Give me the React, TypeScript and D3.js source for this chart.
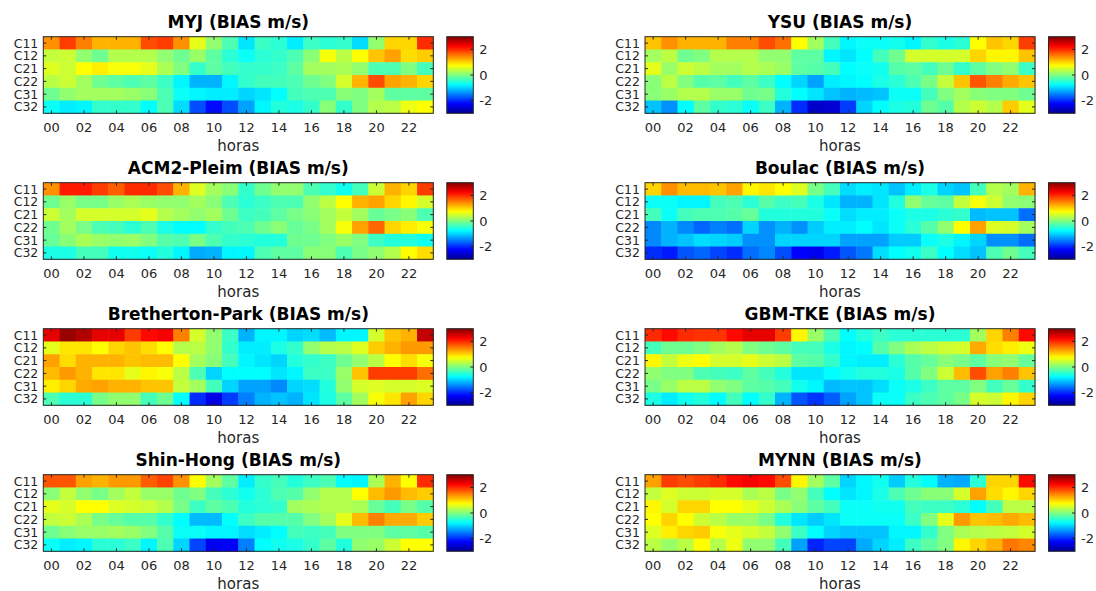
import * as d3 from 'd3';

// estaciones y horas
const stations = ['C11', 'C12', 'C21', 'C22', 'C31', 'C32'];
const hours = d3.range(24);
const hourTicks = [0, 2, 4, 6, 8, 10, 12, 14, 16, 18, 20, 22];
const hourLabels = ['00', '02', '04', '06', '08', '10', '12', '14', '16', '18', '20', '22'];
const cbarTicks = [-2, 0, 2];

// BIAS (m/s) por esquema: filas C11..C32, columnas 00..23 h
const MYJ = [
  [1.4, 1.9, 1.5, 1.2, 1.2, 1.2, 1.8, 1.9, 1.4, 0.6, 0.1, -0.3, -0.9, -0.4, -0.5, -0.85, -0.4, -0.5, -0.45, -0.95, 0.1, 1.0, 1.0, 2.0],
  [0.4, 0.45, 0.1, -0.1, 0.3, 0.3, 0.3, 0.1, -0.1, 0.15, -0.2, -0.5, -0.7, -0.5, -0.45, -0.3, 0.05, 0.7, 0.35, 0.75, 1.1, 1.3, 0.95, 1.05],
  [0.55, 0.45, 0.75, 0.85, 0.7, 0.7, 0.6, 0.25, 0.0, -0.45, -0.2, -0.35, -0.45, -0.45, -0.4, -0.2, 0.2, 0.2, 0.25, 0.1, -0.3, -0.3, 0.0, -0.35],
  [0.35, 0.45, 0.2, -0.1, -0.2, -0.3, -0.2, -0.4, -0.8, -1.2, -1.2, -0.8, -0.45, -0.35, -0.35, -0.3, -0.1, 0.0, 0.5, 1.2, 1.8, 1.3, 1.2, 1.0],
  [-0.1, 0.1, 0.2, 0.2, 0.2, 0.15, 0.05, -0.3, -0.7, -0.8, -0.85, -0.85, -1.0, -0.9, -0.75, -0.35, -0.3, -0.3, 0.05, 0.0, 0.2, -0.2, -0.2, -0.2],
  [-0.7, -0.85, -0.8, -0.45, -0.45, -0.45, -0.75, -0.3, -0.95, -1.8, -2.2, -1.8, -1.3, -0.8, -0.55, -0.6, -0.45, 0.05, -0.45, 0.0, 0.3, 0.35, 0.65, 0.75],
];

const YSU = [
  [1.1, 1.4, 1.2, 1.2, 1.2, 1.5, 1.5, 1.8, 1.6, 0.75, 0.2, -0.35, -0.8, -0.7, -0.7, -0.65, -0.8, -0.45, -0.6, -0.5, 0.75, 1.1, 1.0, 1.9],
  [0.2, 0.35, -0.1, 0.0, 0.3, 0.3, 0.3, 0.1, 0.1, -0.2, -0.2, -0.8, -0.9, -0.75, -0.35, -0.1, 0.5, 0.5, 0.5, 0.5, 1.0, 0.8, 0.8, 1.1],
  [0.6, 0.15, 0.45, 0.35, 0.2, 0.2, 0.3, 0.25, 0.15, -0.2, -0.25, -0.35, -0.75, -0.7, -0.65, -0.25, -0.2, -0.35, -0.1, -0.45, -0.2, 0.0, 0.1, -0.4],
  [0.05, 0.35, 0.0, -0.25, -0.2, -0.35, -0.2, -0.4, -0.75, -1.0, -1.3, -0.85, -0.8, -0.75, -0.6, -0.5, -0.3, -0.05, 0.4, 1.1, 1.75, 1.5, 1.25, 1.1],
  [0.05, 0.15, 0.3, 0.3, 0.15, 0.15, -0.1, -0.05, -0.55, -0.75, -0.9, -1.1, -1.2, -1.15, -1.1, -0.7, -0.7, -0.35, 0.0, 0.2, 0.05, 0.0, 0.0, -0.1],
  [-1.1, -1.4, -0.75, -0.2, -0.45, -0.5, -0.7, -0.4, -1.2, -2.0, -2.6, -2.55, -1.9, -1.0, -0.75, -0.6, -0.55, -0.1, -0.25, 0.3, 0.45, 0.3, 1.05, 0.6],
];

const ACM2 = [
  [1.4, 2.1, 2.1, 1.9, 1.7, 2.0, 2.0, 1.8, 1.2, 0.55, 0.2, 0.05, -0.45, -0.1, 0.1, 0.1, -0.3, -0.45, -0.65, -0.35, 0.45, 1.2, 1.0, 1.9],
  [-0.1, 0.15, -0.05, -0.05, 0.15, 0.25, 0.15, 0.1, 0.1, 0.2, 0.05, -0.3, -0.5, -0.4, -0.3, -0.3, 0.1, 0.35, 0.75, 1.2, 1.3, 1.0, 0.8, 0.5],
  [0.45, 0.2, 0.5, 0.5, 0.5, 0.5, 0.6, 0.3, 0.2, 0.1, 0.2, -0.1, -0.4, -0.35, -0.2, -0.05, 0.05, 0.2, 0.4, 0.2, -0.15, -0.05, 0.05, -0.3],
  [-0.1, 0.2, -0.05, -0.3, -0.35, -0.5, -0.3, -0.6, -0.75, -0.75, -0.45, -0.35, -0.3, -0.1, 0.05, -0.15, -0.05, 0.2, 0.7, 1.3, 1.65, 1.0, 0.85, 0.7],
  [-0.15, 0.05, 0.25, 0.15, 0.1, 0.15, 0.0, -0.25, -0.3, -0.05, -0.3, -0.45, -0.5, -0.55, -0.55, -0.1, -0.1, 0.0, 0.15, 0.0, -0.4, -0.55, -0.55, -0.65],
  [-0.6, -0.6, -0.35, -0.35, -0.65, -0.65, -0.7, -0.55, -0.8, -1.25, -1.2, -0.8, -0.8, -0.3, -0.2, -0.2, 0.05, 0.05, -0.3, -0.05, 0.1, 0.3, 0.75, 0.95],
];

const BOULAC = [
  [1.0, 1.4, 1.15, 1.15, 1.1, 1.3, 0.8, 0.9, 0.75, 0.55, -0.05, -0.35, -0.95, -0.85, -0.9, -1.1, -0.85, -0.6, -1.0, -1.1, -0.35, 0.3, 0.2, 1.2],
  [-0.7, -0.7, -0.8, -0.8, -0.35, -0.3, -0.5, -0.25, -0.4, -0.35, -0.6, -0.9, -1.2, -1.2, -0.9, -0.55, 0.1, -0.15, -0.2, 0.4, 0.7, 0.45, 0.1, 0.05],
  [-0.35, -0.7, -0.35, -0.3, -0.3, -0.25, -0.15, -0.55, -0.55, -0.55, -0.55, -0.7, -0.95, -0.85, -0.85, -0.7, -0.6, -0.6, -0.5, -0.45, -1.15, -1.1, -1.1, -1.6],
  [-1.45, -1.2, -1.45, -1.65, -1.5, -1.6, -1.0, -1.4, -1.2, -1.4, -1.05, -0.85, -0.85, -0.75, -0.9, -0.7, -0.5, -0.25, 0.1, 0.75, 1.3, 0.55, 0.5, 0.2],
  [-1.45, -1.2, -1.1, -0.95, -1.0, -1.05, -1.4, -1.4, -1.0, -1.0, -1.0, -1.0, -1.3, -1.3, -1.3, -1.05, -1.05, -0.7, -0.6, -0.8, -1.0, -1.4, -1.4, -1.6],
  [-2.0, -2.1, -1.75, -1.65, -1.85, -2.0, -1.6, -1.45, -1.8, -2.25, -2.35, -2.1, -1.75, -1.55, -0.95, -0.75, -0.65, -0.4, -0.75, -0.95, -1.1, -0.3, -0.1, -0.35],
];

const BRETHERTON = [
  [2.4, 2.85, 2.7, 2.4, 2.4, 1.9, 2.2, 2.3, 1.5, 0.5, 0.1, -0.4, -1.2, -0.8, -0.8, -1.0, -0.95, -1.15, -0.8, -0.8, 0.5, 1.1, 1.2, 2.6],
  [0.6, 0.9, 0.9, 0.75, 1.0, 1.1, 0.95, 0.75, 0.3, 0.35, 0.1, -0.45, -0.85, -0.85, -0.6, -0.45, 0.1, 0.3, 0.35, 0.55, 1.05, 1.2, 1.35, 1.35],
  [1.3, 0.95, 1.2, 1.2, 1.2, 1.1, 1.15, 1.15, 0.75, 0.2, 0.05, -0.35, -0.8, -0.9, -1.0, -0.55, -0.45, -0.4, -0.1, 0.1, 0.35, 0.75, 0.95, 0.7],
  [1.15, 1.35, 1.2, 0.9, 0.9, 0.6, 0.8, 0.7, 0.35, -0.3, -1.0, -0.75, -0.75, -0.75, -0.9, -0.8, -0.4, -0.4, 0.15, 1.1, 1.9, 1.9, 1.9, 1.6],
  [0.85, 1.0, 1.25, 1.3, 1.2, 1.2, 1.1, 1.1, 0.4, 0.2, -0.35, -1.0, -1.3, -1.3, -1.45, -1.0, -0.95, -0.55, 0.1, 0.5, 0.55, 0.5, 0.5, 0.55],
  [-0.3, -0.5, -0.5, -0.05, 0.1, 0.1, -0.35, -0.1, -0.75, -2.0, -2.4, -1.9, -1.5, -1.2, -1.1, -1.2, -0.9, -0.6, -0.2, 0.2, 0.7, 0.9, 1.3, 1.0],
];

const GBMTKE = [
  [2.0, 2.2, 2.0, 1.95, 1.95, 2.2, 2.4, 2.4, 1.9, 0.8, 0.15, -0.3, -0.75, -0.55, -0.4, -0.5, -0.5, -0.5, -0.5, -0.5, 0.2, 1.0, 1.5, 2.2],
  [-0.35, -0.1, -0.1, 0.0, 0.2, 0.3, 0.0, -0.1, -0.2, -0.35, -0.35, -0.6, -0.8, -0.75, -0.25, 0.0, 0.25, 0.35, 0.45, 0.5, 1.25, 0.95, 0.85, 0.65],
  [0.8, 0.4, 0.65, 0.75, 0.5, 0.5, 0.6, 0.45, 0.35, -0.2, -0.25, -0.45, -0.8, -0.85, -0.85, -0.5, -0.25, -0.15, 0.05, -0.05, -0.2, 0.05, 0.1, -0.15],
  [0.1, 0.0, 0.0, -0.3, -0.35, -0.4, -0.2, -0.35, -0.55, -0.9, -0.9, -0.75, -0.65, -0.55, -0.55, -0.6, -0.25, 0.0, 0.45, 1.15, 1.8, 1.3, 1.5, 1.1],
  [-0.05, 0.15, 0.35, 0.35, 0.1, 0.0, -0.2, -0.25, -0.35, -0.65, -0.8, -1.15, -1.1, -1.1, -0.95, -0.7, -0.6, -0.4, -0.2, -0.2, 0.0, -0.35, -0.15, -0.45],
  [-0.6, -0.85, -0.65, -0.55, -0.75, -0.35, -0.75, -0.45, -1.2, -1.75, -1.95, -1.7, -1.3, -1.1, -0.7, -0.7, -0.4, -0.3, -0.2, -0.05, 0.5, 0.45, 0.8, 1.0],
];

const SHINHONG = [
  [1.75, 1.75, 1.3, 1.2, 1.35, 1.35, 1.7, 1.85, 1.4, 0.75, 0.2, -0.2, -0.85, -0.45, -0.35, -0.55, -0.4, -0.3, -0.75, -0.8, 0.25, 1.2, 0.75, 2.0],
  [0.05, 0.4, 0.1, -0.05, 0.2, 0.4, 0.15, 0.15, -0.1, 0.0, -0.35, -0.5, -0.65, -0.5, -0.3, -0.25, 0.1, 0.3, 0.3, 0.75, 1.15, 1.35, 1.15, 1.05],
  [0.6, 0.5, 0.75, 0.75, 0.55, 0.5, 0.45, 0.3, -0.05, -0.4, -0.2, -0.3, -0.55, -0.5, -0.45, 0.2, 0.25, 0.3, 0.3, 0.25, -0.15, -0.35, -0.05, -0.25],
  [0.4, 0.45, 0.25, -0.05, -0.15, -0.25, -0.25, -0.45, -0.75, -1.15, -1.15, -0.75, -0.4, -0.25, -0.25, -0.25, 0.0, 0.2, 0.6, 1.15, 1.5, 1.25, 1.25, 1.05],
  [-0.1, 0.05, 0.15, 0.15, 0.2, 0.15, 0.0, -0.25, -0.7, -0.7, -0.8, -0.8, -0.95, -0.85, -0.75, -0.35, -0.4, -0.35, 0.0, 0.0, 0.0, -0.2, -0.2, -0.25],
  [-0.7, -0.85, -0.8, -0.5, -0.5, -0.4, -0.8, -0.3, -1.0, -1.85, -2.35, -2.3, -1.5, -0.75, -0.65, -0.6, -0.45, -0.2, -0.55, 0.1, 0.15, 0.45, 0.75, 0.75],
];

const MYNN = [
  [1.3, 1.9, 1.8, 1.9, 2.0, 2.2, 2.3, 2.2, 1.8, 0.8, 0.2, -0.2, -1.0, -0.8, -0.65, -1.05, -0.55, -0.75, -1.2, -1.25, -0.5, 1.0, 1.0, 2.2],
  [0.4, 0.55, 0.45, 0.45, 0.5, 0.5, 0.25, 0.35, -0.05, 0.1, -0.35, -0.75, -0.9, -0.8, -0.6, -0.3, -0.1, 0.05, 0.05, 0.5, 1.3, 0.95, 0.8, 1.0],
  [0.8, 0.5, 1.0, 1.0, 0.75, 0.75, 0.6, 0.45, 0.25, 0.05, -0.2, -0.35, -0.7, -0.7, -0.65, -0.65, -0.35, -0.4, -0.4, -0.5, -0.75, -0.35, 0.35, 0.35],
  [0.75, 1.0, 0.75, 0.45, 0.35, 0.15, 0.15, -0.05, -0.55, -0.9, -1.05, -0.9, -0.7, -0.7, -0.7, -0.7, -0.4, 0.0, 0.6, 1.35, 1.1, 1.15, 1.25, 1.15],
  [0.55, 0.85, 1.0, 1.05, 0.7, 0.6, 0.5, 0.4, 0.1, -0.4, -0.75, -1.0, -1.1, -1.1, -1.1, -0.8, -0.8, -0.45, 0.0, 0.25, 0.3, 0.35, 0.4, 0.5],
  [0.35, 0.15, 0.35, 0.75, 0.3, 0.65, 0.1, 0.1, -0.35, -1.3, -2.05, -1.85, -1.85, -1.25, -1.0, -0.85, -0.4, -0.2, 0.0, 0.8, 1.0, 1.2, 1.55, 1.45],
];

const titles = [
  'MYJ (BIAS m/s)', 'YSU (BIAS m/s)',
  'ACM2-Pleim (BIAS m/s)', 'Boulac (BIAS m/s)',
  'Bretherton-Park (BIAS m/s)', 'GBM-TKE (BIAS m/s)',
  'Shin-Hong (BIAS m/s)', 'MYNN (BIAS m/s)',
];
const panelsData = [MYJ, YSU, ACM2, BOULAC, BRETHERTON, GBMTKE, SHINHONG, MYNN];

const W = 1096;
const H = 591;
const FONT = '"DejaVu Sans", sans-serif';
const AX = '#262626';

// colormap tipo jet, -3..3
const jetStops = [-3, -2.25, -0.75, 0.75, 2.25, 3];
const jet = d3.scaleLinear<string>()
  .domain(jetStops)
  .range(['#000090', '#0000ff', '#00ffff', '#ffff00', '#ff0000', '#800000'])
  .interpolate(d3.interpolateRgb)
  .clamp(true);

const plotW = 390;
const plotH = 76.6;
const colX = [43.3, 645];
const rowY = [36.7, 182.7, 328.7, 474.7];

function Panel({ idx }: { idx: number }) {
  const data = panelsData[idx];
  const x0 = colX[idx % 2];
  const y0 = rowY[Math.floor(idx / 2)];
  const x = d3.scaleBand<number>().domain(hours).range([x0, x0 + plotW]);
  const y = d3.scaleBand<string>().domain(stations).range([y0, y0 + plotH]);
  const cx = x0 + plotW + 13.5;
  const cw = 26.5;
  const c = d3.scaleLinear().domain([-3, 3]).range([y0 + plotH, y0]);
  const gid = `jet-${idx}`;

  return (
    <g>
      <defs>
        <linearGradient id={gid} x1="0" y1="1" x2="0" y2="0">
          {d3.range(0, 1.0001, 0.02).map(t => (
            <stop key={t} offset={t} stopColor={jet(-3 + 6 * t)} />
          ))}
        </linearGradient>
      </defs>
      <text x={x0 + plotW / 2} y={y0 - 9} textAnchor="middle" fontSize={17} fontWeight="bold" fill="#000">
        {titles[idx]}
      </text>
      {data.map((row, i) => row.map((v, j) => (
        <rect key={`${i}-${j}`} x={x(j)} y={y(stations[i])}
          width={x.bandwidth() + 0.5} height={y.bandwidth() + 0.5} fill={jet(v)} />
      )))}
      <rect x={x0} y={y0} width={plotW} height={plotH} fill="none" stroke={AX} strokeWidth={1} />
      {stations.map(s => (
        <g key={s}>
          <line x1={x0} x2={x0 + 3} y1={y(s)! + y.bandwidth() / 2} y2={y(s)! + y.bandwidth() / 2} stroke={AX} />
          <line x1={x0 + plotW} x2={x0 + plotW - 3} y1={y(s)! + y.bandwidth() / 2} y2={y(s)! + y.bandwidth() / 2} stroke={AX} />
          <text x={x0 - 5} y={y(s)! + y.bandwidth() / 2} dy="0.36em" textAnchor="end" fontSize={12.5} fill={AX}>{s}</text>
        </g>
      ))}
      {hourTicks.map((h, k) => {
        const px = x(h)! + x.bandwidth() / 2;
        return (
          <g key={h}>
            <line x1={px} x2={px} y1={y0 + plotH} y2={y0 + plotH - 3} stroke={AX} />
            <line x1={px} x2={px} y1={y0} y2={y0 + 3} stroke={AX} />
            <text x={px} y={y0 + plotH + 18.5} textAnchor="middle" fontSize={13} fill={AX}>{hourLabels[k]}</text>
          </g>
        );
      })}
      <text x={x0 + plotW / 2} y={y0 + plotH + 38} textAnchor="middle" fontSize={15} fill={AX}>horas</text>
      <rect x={cx} y={y0} width={cw} height={plotH} fill={`url(#${gid})`} stroke={AX} strokeWidth={1} />
      {cbarTicks.map(t => (
        <g key={t}>
          <line x1={cx + cw} x2={cx + cw - 3} y1={c(t)} y2={c(t)} stroke={AX} />
          <text x={cx + cw + 6} y={c(t)} dy="0.36em" fontSize={13} fill={AX}>{t}</text>
        </g>
      ))}
    </g>
  );
}

export default function App() {
  return (
    <svg width={W} height={H} style={{ position: 'absolute', left: 0, top: 0, background: '#fff' }} fontFamily={FONT}>
      <rect width={W} height={H} fill="#fff" />
      {titles.map((_, i) => <Panel key={i} idx={i} />)}
    </svg>
  );
}
